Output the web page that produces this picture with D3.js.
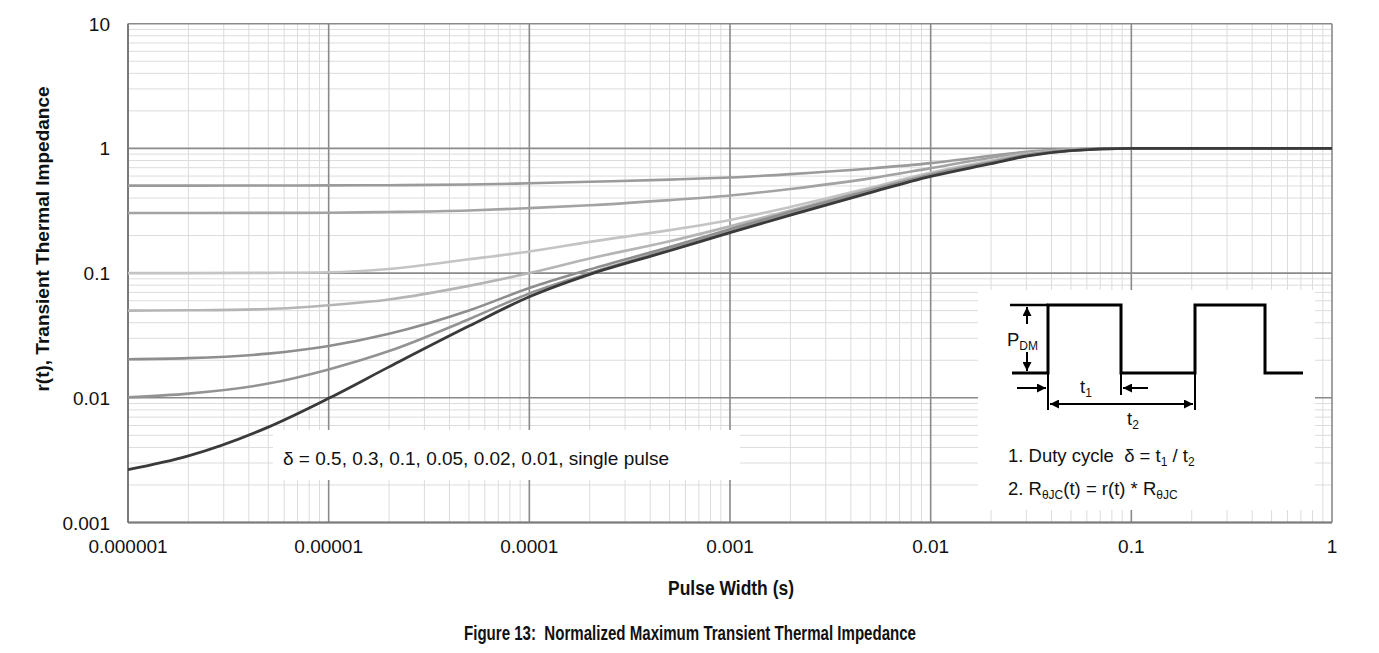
<!DOCTYPE html>
<html>
<head>
<meta charset="utf-8">
<script src="https://cdn.jsdelivr.net/npm/d3@7/dist/d3.min.js"></script>
<style>
  html, body { margin: 0; padding: 0; background: #fff; }
  svg { display: block; }
  text { font-family: "Liberation Sans", Arial, sans-serif; fill: #111; }
  .narrow { font-family: "Liberation Sans Narrow", "Arial Narrow", "Liberation Sans", Arial, sans-serif; font-weight: bold; }
</style>
</head>
<body>
<svg id="chart" width="1379" height="653"></svg>
<script>
// Pulse widths (s) at which each curve is sampled
const pulseWidth = [1e-6, 2e-6, 5e-6, 1e-5, 2e-5, 5e-5, 1e-4, 2e-4, 5e-4, 1e-3, 2e-3, 5e-3, 1e-2, 2e-2, 3e-2, 5e-2, 1e-1, 1];

// Normalized transient thermal impedance r(t) per duty cycle
const rDuty50 = [0.503, 0.503, 0.504, 0.505, 0.507, 0.513, 0.525, 0.540, 0.562, 0.585, 0.622, 0.690, 0.762, 0.872, 0.938, 0.982, 1.0, 1.0];
const rDuty30 = [0.303, 0.303, 0.304, 0.305, 0.309, 0.318, 0.332, 0.350, 0.385, 0.419, 0.473, 0.575, 0.695, 0.841, 0.923, 0.977, 1.0, 1.0];
const rDuty10 = [0.100, 0.100, 0.1005, 0.1016, 0.108, 0.129, 0.149, 0.178, 0.221, 0.267, 0.339, 0.484, 0.640, 0.800, 0.902, 0.970, 1.0, 1.0];
const rDuty05 = [0.0500, 0.0503, 0.0515, 0.0552, 0.0615, 0.079, 0.100, 0.131, 0.180, 0.237, 0.318, 0.470, 0.625, 0.785, 0.892, 0.967, 1.0, 1.0];
const rDuty02 = [0.0204, 0.0208, 0.0226, 0.0260, 0.0326, 0.0501, 0.0759, 0.107, 0.162, 0.225, 0.310, 0.460, 0.615, 0.775, 0.885, 0.965, 1.0, 1.0];
const rDuty01 = [0.0101, 0.0108, 0.0130, 0.0169, 0.0237, 0.0427, 0.0687, 0.100, 0.155, 0.216, 0.300, 0.450, 0.606, 0.765, 0.874, 0.962, 1.0, 1.0];
const rSingle = [0.00265, 0.00342, 0.00582, 0.0099, 0.0177, 0.0376, 0.0646, 0.0977, 0.151, 0.211, 0.292, 0.442, 0.596, 0.755, 0.867, 0.959, 1.0, 1.0];

const seriesNames = ["0.5", "0.3", "0.1", "0.05", "0.02", "0.01", "single pulse"];
const seriesValues = [rDuty50, rDuty30, rDuty10, rDuty05, rDuty02, rDuty01, rSingle];
const seriesColors = ["#9b9b9b", "#a3a3a3", "#c4c4c4", "#b5b5b5", "#8e8e8e", "#939393", "#3a3a3a"];
const seriesWidths = [2.6, 2.6, 2.6, 2.6, 2.6, 2.6, 2.8];

const xTickLabels = ["0.000001", "0.00001", "0.0001", "0.001", "0.01", "0.1", "1"];
const yTickLabels = ["0.001", "0.01", "0.1", "1", "10"];

const svg = d3.select("#chart");
const plot = { left: 128, right: 1332, top: 23.7, bottom: 522.5 };

const x = d3.scaleLog().domain([1e-6, 1]).range([plot.left, plot.right]);
const y = d3.scaleLog().domain([0.001, 10]).range([plot.bottom, plot.top]);

// Minor grid values (2..9 in every decade) on a log axis
function minorValues(lo, hi) {
  const out = [];
  for (let e = Math.round(Math.log10(lo)); e < Math.round(Math.log10(hi)); e++) {
    for (let m = 2; m <= 9; m++) out.push(m * Math.pow(10, e));
  }
  return out;
}
const xMajor = xTickLabels.map(Number);
const yMajor = yTickLabels.map(Number);

const grid = svg.append("g");
grid.selectAll(".xminor").data(minorValues(1e-6, 1)).join("line")
  .attr("x1", d => x(d)).attr("x2", d => x(d))
  .attr("y1", plot.top).attr("y2", plot.bottom)
  .attr("stroke", "#dcdcdc").attr("stroke-width", 1);
grid.selectAll(".yminor").data(minorValues(0.001, 10)).join("line")
  .attr("y1", d => y(d)).attr("y2", d => y(d))
  .attr("x1", plot.left).attr("x2", plot.right)
  .attr("stroke", "#dcdcdc").attr("stroke-width", 1);
grid.selectAll(".xmajor").data(xMajor).join("line")
  .attr("x1", d => x(d)).attr("x2", d => x(d))
  .attr("y1", plot.top).attr("y2", plot.bottom)
  .attr("stroke", "#8a8a8a").attr("stroke-width", 1.6);
grid.selectAll(".ymajor").data(yMajor).join("line")
  .attr("y1", d => y(d)).attr("y2", d => y(d))
  .attr("x1", plot.left).attr("x2", plot.right)
  .attr("stroke", "#8a8a8a").attr("stroke-width", 1.6);

// Axis frame (left and bottom)
svg.append("line").attr("x1", plot.left).attr("x2", plot.left)
  .attr("y1", plot.top).attr("y2", plot.bottom)
  .attr("stroke", "#7a7a7a").attr("stroke-width", 2);
svg.append("line").attr("x1", plot.left).attr("x2", plot.right)
  .attr("y1", plot.bottom).attr("y2", plot.bottom)
  .attr("stroke", "#7a7a7a").attr("stroke-width", 2);

// Curves
const line = d3.line()
  .x((d, i) => x(pulseWidth[i]))
  .y(d => y(d))
  .curve(d3.curveMonotoneX);

svg.append("g").selectAll("path").data(seriesValues).join("path")
  .attr("d", d => line(d))
  .attr("fill", "none")
  .attr("stroke", (d, i) => seriesColors[i])
  .attr("stroke-width", (d, i) => seriesWidths[i])
  .attr("stroke-linejoin", "round");

// Tick labels
svg.append("g").selectAll("text").data(yMajor).join("text")
  .attr("x", 110).attr("y", d => y(d) + 7)
  .attr("text-anchor", "end")
  .attr("font-size", 19)
  .text((d, i) => yTickLabels[i]);

svg.append("g").selectAll("text").data(xMajor).join("text")
  .attr("x", d => x(d)).attr("y", 553)
  .attr("text-anchor", "middle")
  .attr("font-size", 19)
  .text((d, i) => xTickLabels[i]);

// Axis titles
svg.append("text")
  .attr("transform", "translate(48.5,239) rotate(-90)")
  .attr("text-anchor", "middle")
  .attr("font-size", 19).attr("font-weight", "bold")
  .text("r(t), Transient Thermal Impedance");

svg.append("text").attr("class", "narrow")
  .attr("x", 731).attr("y", 595)
  .attr("text-anchor", "middle")
  .attr("font-size", 20)
  .attr("textLength", 126).attr("lengthAdjust", "spacingAndGlyphs")
  .text("Pulse Width (s)");

svg.append("text").attr("class", "narrow")
  .attr("x", 690).attr("y", 640)
  .attr("text-anchor", "middle")
  .attr("font-size", 20)
  .attr("textLength", 452).attr("lengthAdjust", "spacingAndGlyphs")
  .text("Figure 13:\u00a0 Normalized Maximum Transient Thermal Impedance");

// Duty-cycle label
svg.append("rect").attr("x", 273).attr("y", 430).attr("width", 467).attr("height", 50).attr("fill", "#fff");
svg.append("text").attr("x", 283).attr("y", 465).attr("font-size", 19)
  .text("δ = " + seriesNames.join(", "));

// Pulse train diagram
const inset = svg.append("g").attr("transform", "translate(978,290)");
inset.append("rect").attr("width", 337).attr("height", 220).attr("fill", "#fff");

const defs = svg.append("defs");
defs.append("marker").attr("id", "ah").attr("viewBox", "0 0 10 10")
  .attr("refX", 10).attr("refY", 5).attr("markerWidth", 9).attr("markerHeight", 9)
  .attr("markerUnits", "userSpaceOnUse").attr("orient", "auto-start-reverse")
  .append("path").attr("d", "M0,0 L10,5 L0,10 Z").attr("fill", "#000");

const lo = 83, hi = 15;
const wave = [[34, lo], [70, lo], [70, hi], [143, hi], [143, lo], [217, lo], [217, hi], [287, hi], [287, lo], [325, lo]];
inset.append("path").attr("d", d3.line()(wave))
  .attr("fill", "none").attr("stroke", "#000").attr("stroke-width", 3).attr("stroke-linejoin", "miter");
inset.append("line").attr("x1", 32).attr("x2", 70).attr("y1", hi).attr("y2", hi)
  .attr("stroke", "#000").attr("stroke-width", 2.5);

// P_DM arrows
inset.append("line").attr("x1", 49).attr("x2", 49).attr("y1", 34).attr("y2", 17)
  .attr("stroke", "#000").attr("stroke-width", 2).attr("marker-end", "url(#ah)");
inset.append("line").attr("x1", 49).attr("x2", 49).attr("y1", 62).attr("y2", 81)
  .attr("stroke", "#000").attr("stroke-width", 2).attr("marker-end", "url(#ah)");
const pdm = inset.append("text").attr("x", 29).attr("y", 56).attr("font-size", 18.5);
pdm.append("tspan").text("P");
pdm.append("tspan").attr("font-size", 12).attr("dy", 4).text("DM");

// t1 arrows
inset.append("line").attr("x1", 39).attr("x2", 68).attr("y1", 98).attr("y2", 98)
  .attr("stroke", "#000").attr("stroke-width", 2).attr("marker-end", "url(#ah)");
inset.append("line").attr("x1", 170).attr("x2", 145).attr("y1", 98).attr("y2", 98)
  .attr("stroke", "#000").attr("stroke-width", 2).attr("marker-end", "url(#ah)");
const t1 = inset.append("text").attr("x", 102).attr("y", 103).attr("font-size", 18.5);
t1.append("tspan").text("t");
t1.append("tspan").attr("font-size", 12).attr("dy", 4).text("1");

// Extension lines and t2 arrow
[[70, 120], [143, 105], [217, 120]].forEach(([px, bottom]) => {
  inset.append("line").attr("x1", px).attr("x2", px).attr("y1", lo).attr("y2", bottom)
    .attr("stroke", "#000").attr("stroke-width", 2);
});
inset.append("line").attr("x1", 72).attr("x2", 215).attr("y1", 114).attr("y2", 114)
  .attr("stroke", "#000").attr("stroke-width", 2)
  .attr("marker-start", "url(#ah)").attr("marker-end", "url(#ah)");
const t2 = inset.append("text").attr("x", 149).attr("y", 135).attr("font-size", 18.5);
t2.append("tspan").text("t");
t2.append("tspan").attr("font-size", 12).attr("dy", 4).text("2");

// Notes
const n1 = inset.append("text").attr("x", 30).attr("y", 172).attr("font-size", 18.5);
n1.append("tspan").text("1. Duty cycle\u00a0 δ = t");
n1.append("tspan").attr("font-size", 12).attr("dy", 4).text("1");
n1.append("tspan").attr("dy", -4).text(" / t");
n1.append("tspan").attr("font-size", 12).attr("dy", 4).text("2");

const n2 = inset.append("text").attr("x", 30).attr("y", 205).attr("font-size", 18.5);
n2.append("tspan").text("2. R");
n2.append("tspan").attr("font-size", 12).attr("dy", 4).text("θJC");
n2.append("tspan").attr("dy", -4).text("(t) = r(t) * R");
n2.append("tspan").attr("font-size", 12).attr("dy", 4).text("θJC");
</script>
</body>
</html>
